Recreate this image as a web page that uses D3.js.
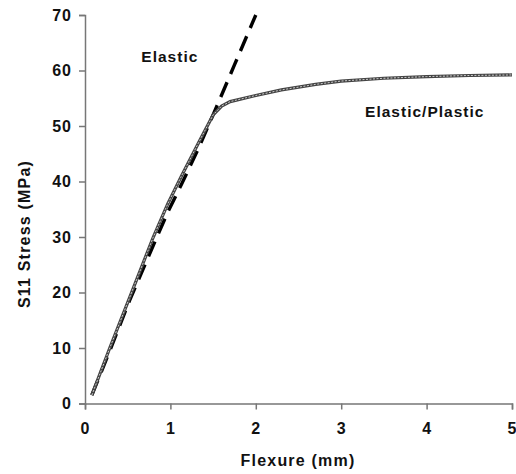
<!DOCTYPE html>
<html><head><meta charset="utf-8">
<script src="https://cdn.jsdelivr.net/npm/d3@7"></script>
<style>body{margin:0;background:#fff}text{font-family:"Liberation Sans",Arial,sans-serif;font-weight:bold;fill:#111}</style>
</head><body><svg id="c" width="516" height="474"></svg>
<script>
const xTicks=[0,1,2,3,4,5];
const yTicks=[0,10,20,30,40,50,60,70];
const plasticX=[0.08,0.29,0.52,0.8,0.97,1.13,1.33,1.5,1.6,1.7,2.0,2.3,2.7,3.0,3.5,4.0,4.5,5.0];
const plasticY=[1.5,10,19,30,36,41,47,52,53.6,54.4,55.5,56.5,57.5,58.1,58.6,58.9,59.1,59.2];
const elasticX=[0.08,0.29,0.52,0.8,0.97,1.13,1.33,1.5,1.75,2.0];
const elasticY=[1.5,9.5,18.5,28.5,34.5,39.5,46,52,61,70];
const labels=[{t:"Elastic",x:0.66,y:61.5},{t:"Elastic/Plastic",x:3.28,y:51.6}];

const svg=d3.select("#c");
const x=d3.scaleLinear().domain([0,5]).range([85,512]);
const y=d3.scaleLinear().domain([0,70]).range([403.5,15]);

const xa=svg.append("g").attr("transform","translate(0,403.5)")
 .call(d3.axisBottom(x).tickValues(xTicks).tickSize(6).tickPadding(13).tickFormat(d3.format("d")));
const ya=svg.append("g").attr("transform","translate(85,0)")
 .call(d3.axisLeft(y).tickValues(yTicks).tickSize(6).tickPadding(7).tickFormat(d3.format("d")));
[xa,ya].forEach(a=>{
 a.select(".domain").attr("stroke","#777").attr("stroke-width",1.5);
 a.selectAll(".tick line").attr("stroke","#777").attr("stroke-width",1.5);
 a.selectAll(".tick text").style("font-size","16px").style("letter-spacing","1px").attr("fill","#111");
});

const line=d3.line().x(d=>x(d[0])).y(d=>y(d[1]));
const pl=plasticX.map((v,i)=>[v,plasticY[i]]);
const el=elasticX.map((v,i)=>[v,elasticY[i]]);
svg.append("path").attr("d",line(el)).attr("fill","none").attr("stroke","#000").attr("stroke-width",3.4).attr("stroke-dasharray","16,9");
svg.append("path").attr("d",line(pl)).attr("fill","none").attr("stroke","#444").attr("stroke-width",3.2);
svg.append("path").attr("d",line(pl)).attr("fill","none").attr("stroke","#ccc").attr("stroke-width",1).attr("stroke-dasharray","2,1.5");

labels.forEach(l=>svg.append("text").attr("x",x(l.x)).attr("y",y(l.y)).text(l.t)
 .style("font-size","15.5px").style("letter-spacing","1px"));

svg.append("text").attr("x",298).attr("y",466).attr("text-anchor","middle")
 .style("font-size","16px").style("letter-spacing","1.2px").text("Flexure (mm)");
svg.append("text").attr("transform","translate(30,234) rotate(-90)").attr("text-anchor","middle")
 .style("font-size","16px").style("letter-spacing","1.2px").text("S11 Stress (MPa)");
</script></body></html>
